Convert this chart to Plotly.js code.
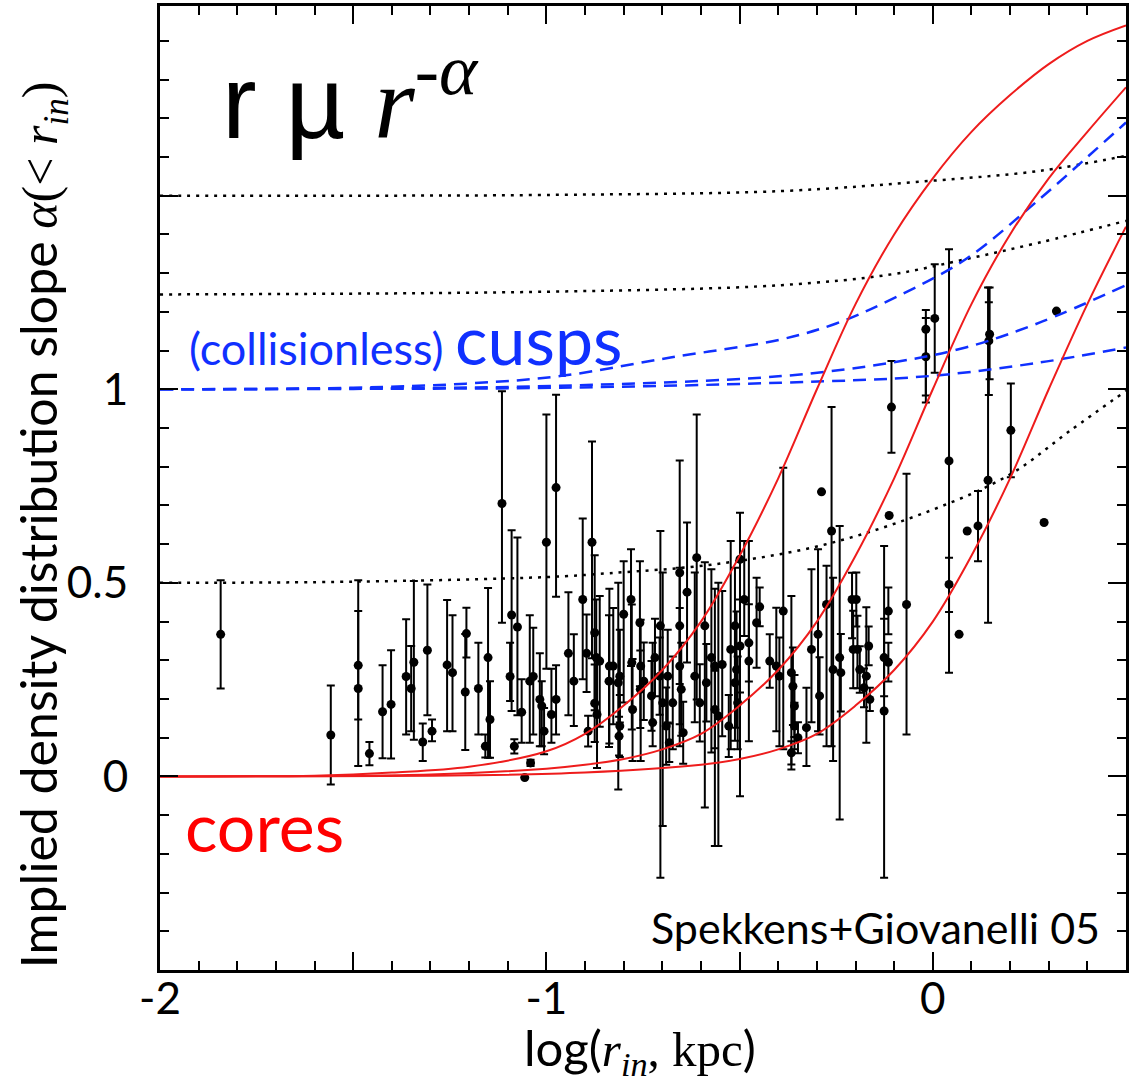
<!DOCTYPE html>
<html><head><meta charset="utf-8">
<script src="https://cdn.plot.ly/plotly-3.0.1.min.js"></script>
<style>body{margin:0;background:#fff}#chart{width:1137px;height:1086px}</style>
</head><body><div id="chart"></div>
<script>
// ---- galaxy measurements: log r_in, slope alpha, error up, error down ----
const galX = [-1.843,-1.558,-1.487,-1.487,-1.458,-1.424,-1.402,-1.363,-1.350,-1.343,
-1.320,-1.308,-1.296,-1.257,-1.243,-1.207,-1.210,-1.176,-1.158,-1.151,
-1.146,-1.115,-1.090,-1.094,-1.075,-1.064,-1.083,-1.043,-1.034,-1.041,
-1.056,-1.017,-1.012,-1.006,-1.000,-0.975,-0.987,-0.975,-0.943,-0.929,
-0.906,-0.896,-0.882,-0.892,-0.875,-0.871,-0.875,-0.869,-0.862,-0.838,
-0.837,-0.827,-0.814,-0.810,-0.810,-0.812,-0.800,-0.781,-0.779,-0.777,
-0.758,-0.756,-0.748,-0.757,-0.728,-0.725,-0.719,-0.705,-0.707,-0.699,
-0.690,-0.686,-0.682,-0.673,-0.655,-0.655,-0.655,-0.651,-0.646,-0.636,
-0.611,-0.616,-0.603,-0.590,-0.586,-0.573,-0.564,-0.564,-0.555,-0.545,
-0.523,-0.528,-0.512,-0.508,-0.505,-0.512,-0.499,-0.499,-0.488,-0.476,
-0.476,-0.456,-0.448,-0.422,-0.405,-0.397,-0.387,-0.366,-0.362,-0.358,
-0.358,-0.349,-0.366,-0.327,-0.314,-0.297,-0.293,-0.288,-0.262,-0.275,
-0.258,-0.241,-0.238,-0.209,-0.198,-0.206,-0.195,-0.189,-0.178,-0.172,
-0.166,-0.163,-0.126,-0.126,-0.115,-0.115,-0.113,-0.107,-0.068,-0.018,
-0.018,0.005,0.042,0.042,0.068,0.089,0.117,0.143,0.147,0.145,
0.202,0.288,0.320];
const galY = [0.367,0.107,0.287,0.227,0.059,0.167,0.186,0.258,0.227,0.295,
0.089,0.326,0.117,0.288,0.268,0.369,0.218,0.227,0.078,0.307,
0.147,0.705,0.417,0.258,0.386,0.166,0.078,0.246,0.258,0.035,
-0.003,0.199,0.182,0.117,0.605,0.746,0.160,0.199,0.318,0.246,
0.457,0.318,0.605,0.117,0.371,0.307,0.189,0.160,0.298,0.246,
0.285,0.285,0.242,0.259,0.130,0.104,0.419,0.457,0.294,0.173,
0.397,0.285,0.246,0.225,0.208,0.139,0.307,0.389,0.259,0.190,
0.130,0.259,0.087,0.190,0.526,0.389,0.285,0.225,0.113,0.476,
0.565,0.259,0.190,0.389,0.242,0.307,0.173,0.285,0.156,0.289,
0.328,0.130,0.389,0.276,0.190,0.242,0.561,0.337,0.457,0.345,
0.298,0.397,0.438,0.298,0.285,0.259,0.427,0.268,0.233,0.182,
0.130,0.100,0.061,0.126,0.328,0.367,0.208,0.735,0.634,0.444,
0.276,0.307,0.268,0.457,0.457,0.328,0.328,0.276,0.229,0.259,
0.337,0.199,0.169,0.307,0.427,0.295,0.674,0.954,0.444,1.155,
1.084,1.183,0.815,0.496,0.367,0.634,0.647,0.765,1.142,1.125,
0.894,0.656,1.202];
const errUp = [0.14,0.128,0.14,0.28,0.03,0.12,0.14,0.148,0.11,0.21,
0.048,0.17,0.03,0.168,0.148,0.067,0.15,0.118,0.03,0.18,
0.099,0.29,0.219,0.087,0.231,0.085,0.018,0.17,0.126,0.008,
0,0.119,0.064,0.06,0.33,0.24,0.118,0.088,0.158,0.121,
0.209,0.1,0.26,0.04,0.2,0.15,0.1,0.14,0.168,0.17,
0.2,0.15,0.258,0.12,0.08,0.05,0.137,0.13,0.15,0.13,
0.159,0.12,0.1,0.1,0.09,0.206,0.1,0.245,0.1,0.337,
0.1,0.12,0.05,0.12,0.29,0.15,0.15,0.12,0.08,0.18,
0.37,0.268,0.1,0.164,0.1,0.228,0.1,0.2,0.344,0.19,
0.28,0.08,0.15,0.15,0.12,0.15,0.12,0.12,0.151,0.1,
0.31,0.116,0.05,0.069,0.151,0.1,0.37,0.198,0.1,0.08,
0.06,0.04,0.03,0.103,0.207,0.22,0.1,0,0.32,0.1,
0.237,0.34,0.1,0.069,0.07,0.1,0.087,0.06,0.05,0.178,
0.05,0.03,0.426,0.1,0.061,0.05,0,0.119,0.338,0.05,
0.1,0.14,0.547,0.069,0,0,0.09,0.498,0.121,0.1,
0.121,0,0];
const errDn = [0.14,0.128,0.14,0.2,0.03,0.12,0.14,0.15,0.11,0.2,
0.049,0.168,0.026,0.171,0.151,0.062,0.15,0.119,0.029,0.259,
0.099,0.308,0.248,0.063,0.228,0.079,0.019,0.159,0.15,0.008,
0,0.121,0.104,0.06,0.327,0.282,0.073,0.091,0.16,0.116,
0.206,0.1,0.3,0.04,0.2,0.15,0.1,0.138,0.17,0.17,
0.2,0.15,0.276,0.12,0.08,0.05,0.228,0.172,0.173,0.133,
0.164,0.245,0.1,0.1,0.09,0.061,0.1,0.651,0.1,0.318,
0.1,0.12,0.05,0.12,0.448,0.15,0.15,0.12,0.08,0.182,
0.366,0.119,0.1,0.469,0.1,0.245,0.1,0.465,0.336,0.185,
0.258,0.08,0.15,0.15,0.12,0.15,0.612,0.12,0.094,0.1,
0.207,0.116,0.05,0.069,0.168,0.181,0.357,0.25,0.1,0.08,
0.06,0.04,0.03,0.099,0.188,0.25,0.1,0,0.556,0.366,
0.236,0.418,0.1,0.1,0.07,0.1,0.1,0.06,0.05,0.172,
0.05,0.03,0.431,0.1,0.06,0.05,0,0.118,0.336,0.189,
0.1,0.14,0.547,0.071,0,0,0.091,0.368,0.116,0.14,
0.121,0,0];

// ---- model curves ----
const coreAX = [-2,-1.6,-1.4,-1.2,-1.0,-0.9,-0.8,-0.7,-0.6,-0.5,-0.4,-0.3,-0.2,-0.1,0,0.1,0.2,0.3,0.4,0.5];
const coreAY = [0,0.002,0.01,0.025,0.065,0.11,0.183,0.275,0.40,0.57,0.77,1.0,1.22,1.40,1.545,1.665,1.76,1.84,1.90,1.94];
const coreBX = [-2,-1.3,-1.0,-0.9,-0.8,-0.7,-0.6,-0.5,-0.4,-0.3,-0.2,-0.1,0,0.1,0.2,0.3,0.4,0.5];
const coreBY = [0,0.005,0.02,0.03,0.045,0.07,0.11,0.183,0.275,0.40,0.57,0.77,1.0,1.22,1.40,1.545,1.665,1.78];
const coreCX = [-2,-1.2,-0.9,-0.6,-0.5,-0.4,-0.3,-0.2,-0.1,0,0.1,0.2,0.3,0.4,0.5];
const coreCY = [0,0.003,0.01,0.03,0.045,0.07,0.11,0.183,0.275,0.40,0.57,0.77,1.0,1.22,1.42];
const cuspAX = [-2,-1.5,-1.2,-0.965,-0.679,-0.392,-0.25,-0.106,0.085,0.276,0.4,0.5];
const cuspAY = [1.0,1.004,1.015,1.034,1.082,1.129,1.17,1.233,1.336,1.491,1.6,1.689];
const cuspBX = [-2,-1.5,-0.965,-0.392,-0.106,0.085,0.276,0.5];
const cuspBY = [1.0,1.002,1.009,1.034,1.069,1.108,1.172,1.269];
const cuspCX = [-2,-1.5,-0.965,-0.392,-0.01,0.276,0.5];
const cuspCY = [1.0,1.001,1.004,1.017,1.034,1.069,1.108];
const dotAX = [-2,-1.5,-1.0,-0.392,-0.01,0.276,0.5];
const dotAY = [1.5,1.5,1.502,1.512,1.538,1.564,1.603];
const dotBX = [-2,-1.0,-0.392,-0.106,0.085,0.276,0.5];
const dotBY = [1.245,1.252,1.269,1.297,1.336,1.379,1.435];
const dotCX = [-2,-1.5,-1.0,-0.836,-0.564,-0.279,-0.008,0.2,0.354,0.5];
const dotCY = [0.5,0.503,0.515,0.525,0.548,0.599,0.686,0.78,0.892,0.996];

const xTickVals = [-2,-1.5,-1,-0.5,0,0.5];
const xTickText = ['-2','','-1','','0',''];
const yTickVals = [-0.5,0,0.5,1,1.5];
const yTickText = ['','0','0.5','1',''];

const RED = '#ee1c1c', BLUE = '#1030ff';
const redLine = {color:RED, width:2, shape:'spline', smoothing:1};
const traces = [
  {x: galX, y: galY, type:'scatter', mode:'markers',
   marker:{color:'black', size:9},
   error_y:{type:'data', symmetric:false, array:errUp, arrayminus:errDn, color:'black', thickness:2, width:4}},
  {x: dotAX, y: dotAY, mode:'lines', line:{color:'black', width:2.5, dash:'3px,6px', shape:'spline'}},
  {x: dotBX, y: dotBY, mode:'lines', line:{color:'black', width:2.5, dash:'3px,6px', shape:'spline'}},
  {x: dotCX, y: dotCY, mode:'lines', line:{color:'black', width:2.5, dash:'3px,6px', shape:'spline'}},
  {x: cuspAX, y: cuspAY, mode:'lines', line:{color:BLUE, width:2.5, dash:'13px,8px', shape:'spline'}},
  {x: cuspBX, y: cuspBY, mode:'lines', line:{color:BLUE, width:2.5, dash:'13px,8px', shape:'spline'}},
  {x: cuspCX, y: cuspCY, mode:'lines', line:{color:BLUE, width:2.5, dash:'13px,8px', shape:'spline'}},
  {x: coreAX, y: coreAY, mode:'lines', line:redLine},
  {x: coreBX, y: coreBY, mode:'lines', line:redLine},
  {x: coreCX, y: coreCY, mode:'lines', line:redLine}
];

const axisCommon = {
  showgrid:false, zeroline:false, showline:true, linecolor:'black', linewidth:3,
  mirror:'allticks', ticks:'inside', ticklen:18, tickwidth:2, tickcolor:'black',
  tickmode:'array', tickfont:{family:'Lato', size:44, color:'black'},
  minor:{dtick:0.1, tick0:0, ticks:'inside', ticklen:9, tickwidth:2, tickcolor:'black', showgrid:false}
};

const layout = {
  width:1137, height:1086, showlegend:false,
  paper_bgcolor:'white', plot_bgcolor:'white',
  margin:{l:160, r:11, t:6, b:116},
  xaxis: Object.assign({}, axisCommon, {range:[-2,0.5], tickvals:xTickVals, ticktext:xTickText, ticklabelstandoff:-12}),
  yaxis: Object.assign({}, axisCommon, {range:[-0.5,1.99], tickvals:yTickVals, ticktext:yTickText, ticklabelstandoff:20}),
  annotations:[
    {xref:'paper', yref:'paper', x:-0.122, y:0.4616, xanchor:'center', yanchor:'middle', textangle:-90, showarrow:false,
     font:{family:'Lato', size:50, color:'black'},
     text:'Implied density distribution slope <span style="font-family:Liberation Serif"><i>α</i>(&lt; <i>r</i><sub><i>in</i></sub>)</span>'},
    {xref:'paper', yref:'paper', x:0.497, y:-0.084, xanchor:'center', yanchor:'middle', showarrow:false,
     font:{family:'Lato', size:49, color:'black'},
     text:'log(<span style="font-family:Liberation Serif"><i>r</i><sub><i>in</i></sub>, kpc</span>)'},
    {xref:'paper', yref:'paper', x:0.062, y:0.9077, xanchor:'left', yanchor:'middle', showarrow:false,
     font:{family:'Liberation Sans', size:104, color:'black'},
     text:'r µ <span style="font-family:Liberation Serif"><i>r</i><sup>-<i>α</i></sup></span>'},
    {xref:'paper', yref:'paper', x:0.028, y:0.655, xanchor:'left', yanchor:'middle', showarrow:false,
     font:{family:'Lato', size:45, color:BLUE},
     text:'(collisionless) <span style="font-size:68px">cusps</span>'},
    {xref:'paper', yref:'paper', x:0.0238, y:0.1504, xanchor:'left', yanchor:'middle', showarrow:false,
     font:{family:'Lato', size:68, color:'#ff0000'}, text:'cores'},
    {xref:'paper', yref:'paper', x:0.975, y:0.0446, xanchor:'right', yanchor:'middle', showarrow:false,
     font:{family:'Lato', size:43, color:'black'}, text:'Spekkens+Giovanelli 05'}
  ]
};

Plotly.newPlot('chart', traces, layout, {displayModeBar:false, staticPlot:true});
</script></body></html>
